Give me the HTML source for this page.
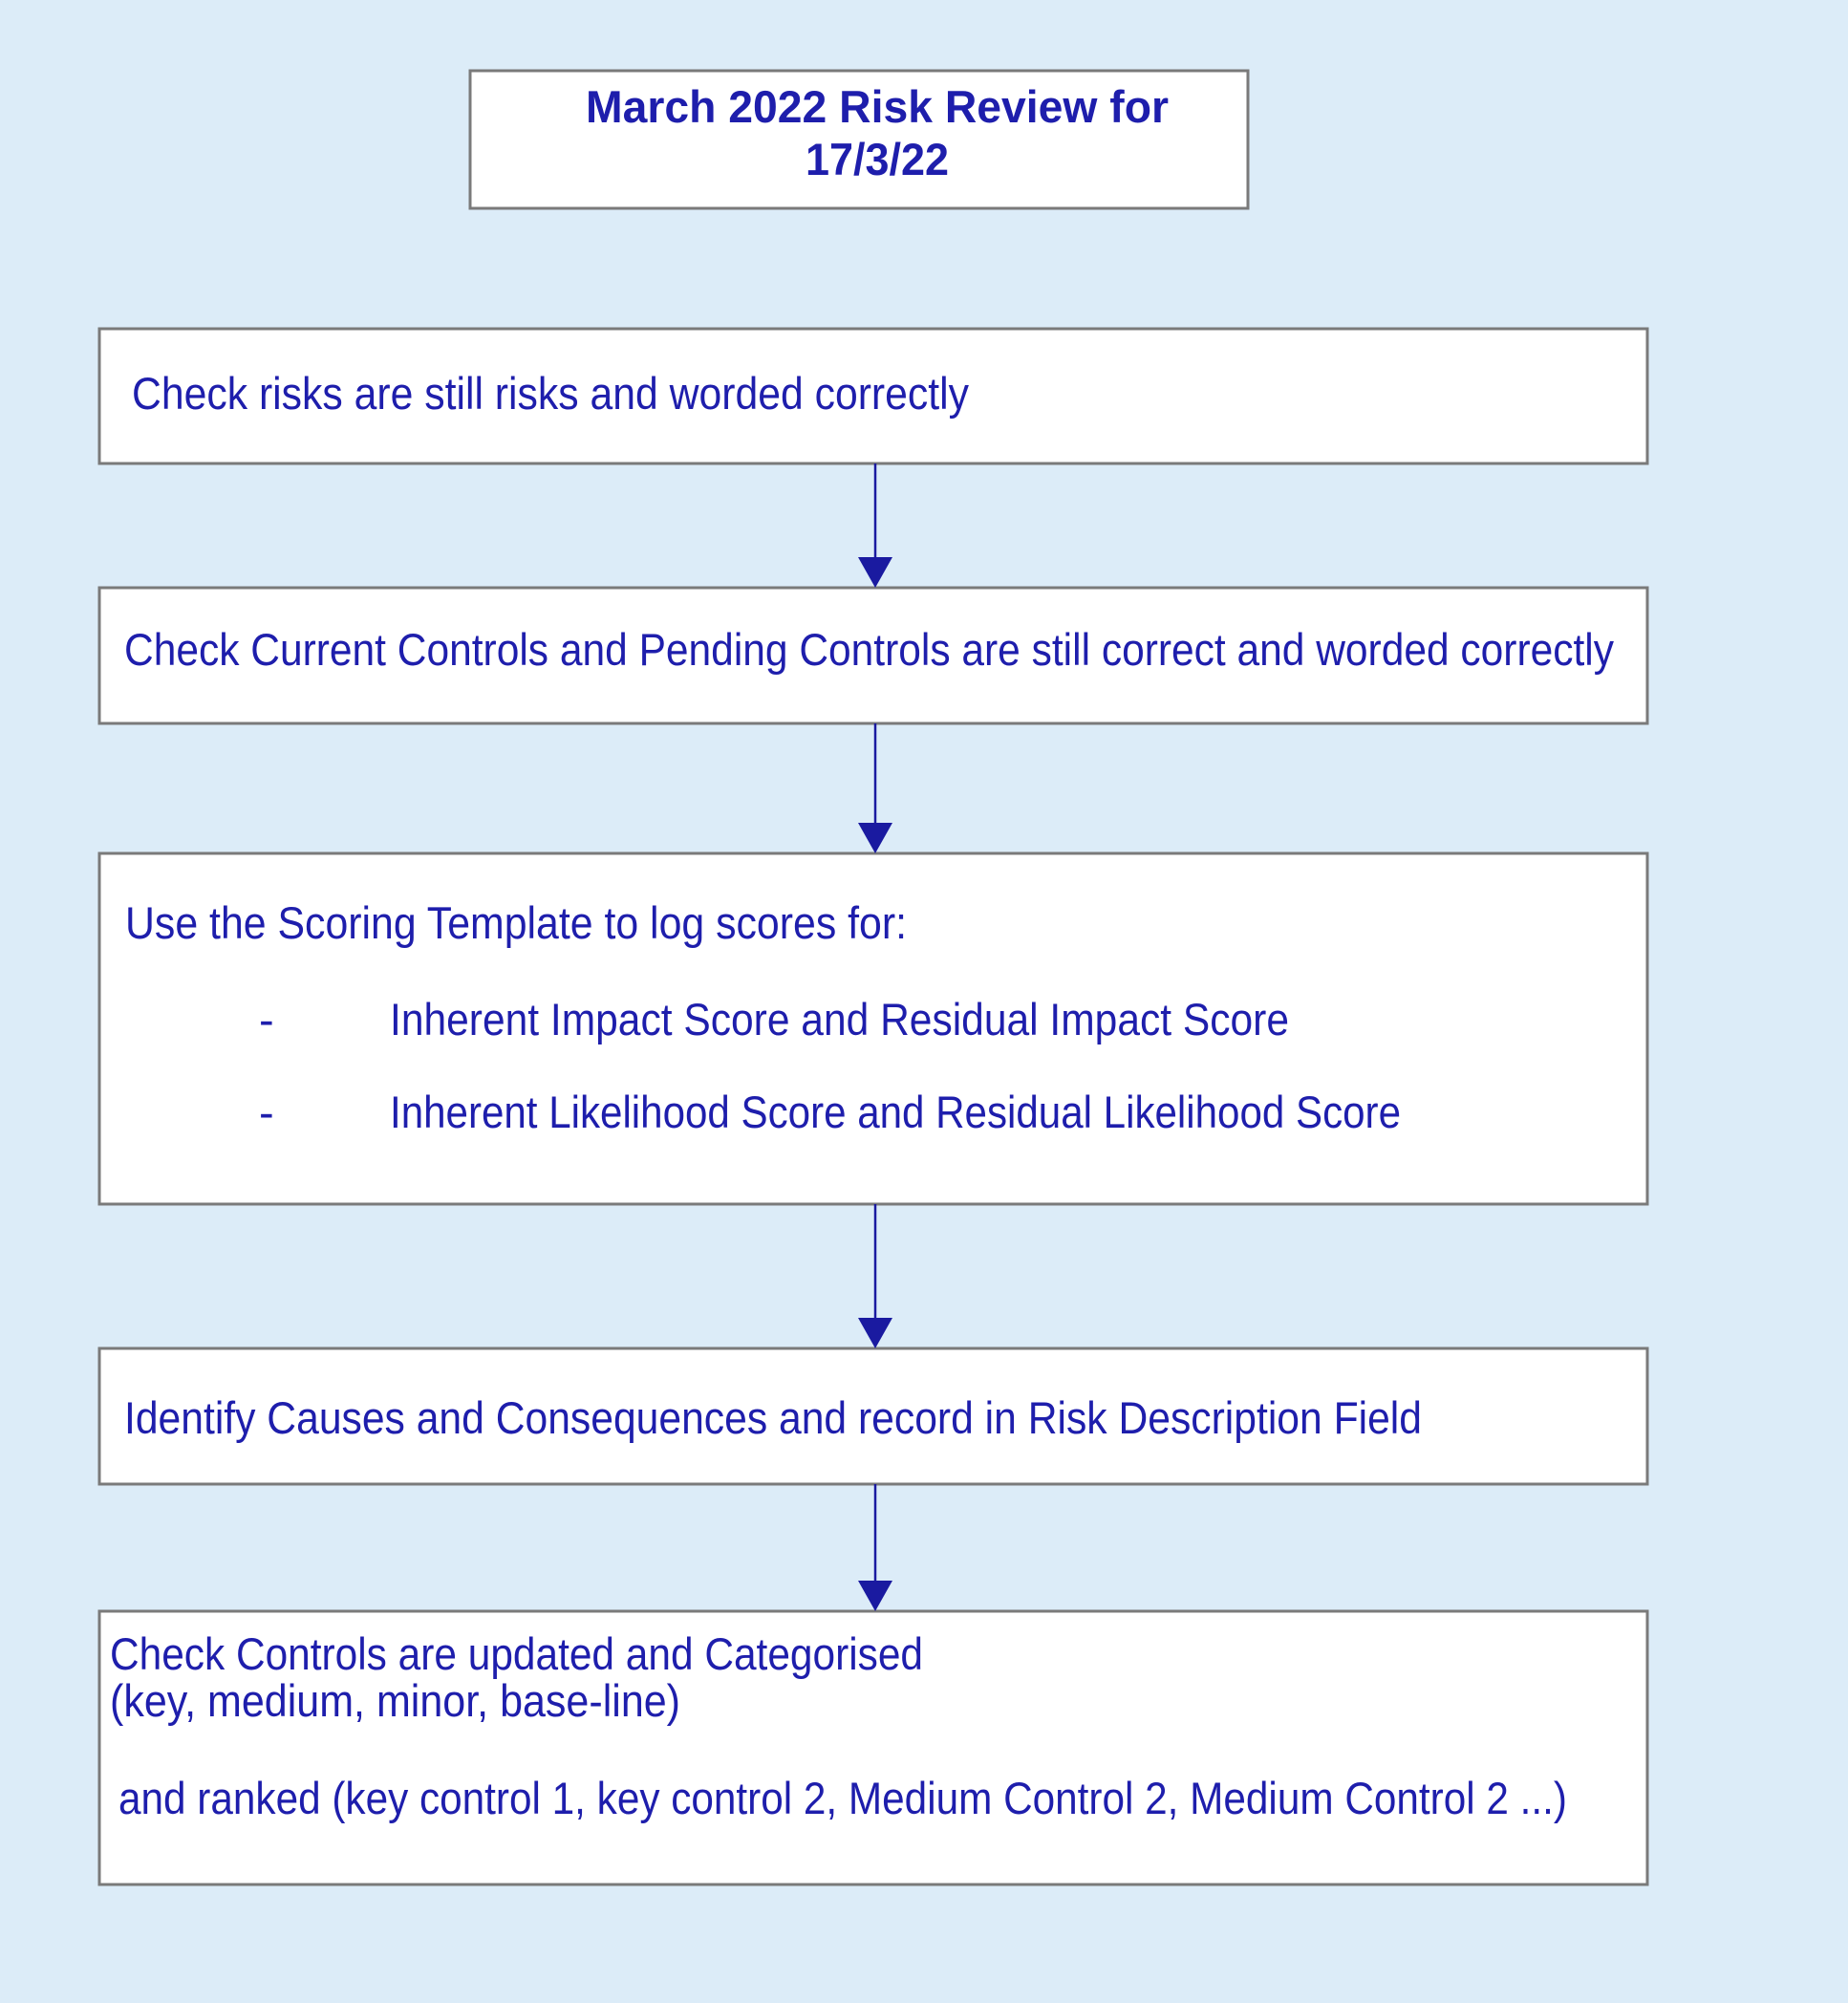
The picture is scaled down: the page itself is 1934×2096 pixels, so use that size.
<!DOCTYPE html>
<html><head><meta charset="utf-8"><style>
html,body{margin:0;padding:0;background:#dcecf8;}
svg{display:block}
text{font-family:"Liberation Sans",Arial,sans-serif;fill:#1e1eac;}
</style></head><body>
<svg width="1934" height="2096" viewBox="0 0 1934 2096" xmlns="http://www.w3.org/2000/svg">
<rect x="0" y="0" width="1934" height="2096" fill="#dcecf8"/>
<g fill="#fff" stroke="#7a7a7a" stroke-width="3">
<rect x="492" y="74" width="814" height="144"/>
<rect x="104" y="344" width="1620" height="141"/>
<rect x="104" y="615" width="1620" height="142"/>
<rect x="104" y="893" width="1620" height="367"/>
<rect x="104" y="1411" width="1620" height="142"/>
<rect x="104" y="1686" width="1620" height="286"/>
</g>
<g stroke="#1a1aa0" stroke-width="2.5" fill="#1a1aa0">
<line x1="916" y1="485" x2="916" y2="590"/><polygon points="898,583 934,583 916,615" stroke="none"/>
<line x1="916" y1="757" x2="916" y2="868"/><polygon points="898,861 934,861 916,893" stroke="none"/>
<line x1="916" y1="1260" x2="916" y2="1386"/><polygon points="898,1379 934,1379 916,1411" stroke="none"/>
<line x1="916" y1="1553" x2="916" y2="1661"/><polygon points="898,1654 934,1654 916,1686" stroke="none"/>
</g>
<text x="613" y="128" font-size="47" font-weight="bold" textLength="610" lengthAdjust="spacingAndGlyphs">March 2022 Risk Review for</text>
<text x="843" y="183" font-size="47" font-weight="bold" textLength="150" lengthAdjust="spacingAndGlyphs">17/3/22</text>
<text x="138" y="428" font-size="47" textLength="876" lengthAdjust="spacingAndGlyphs">Check risks are still risks and worded correctly</text>
<text x="130" y="696" font-size="47" textLength="1559" lengthAdjust="spacingAndGlyphs">Check Current Controls and Pending Controls are still correct and worded correctly</text>
<text x="131" y="982" font-size="47" textLength="818" lengthAdjust="spacingAndGlyphs">Use the Scoring Template to log scores for:</text>
<text x="271" y="1083" font-size="47">-</text>
<text x="408" y="1083" font-size="47" textLength="941" lengthAdjust="spacingAndGlyphs">Inherent Impact Score and Residual Impact Score</text>
<text x="271" y="1180" font-size="47">-</text>
<text x="408" y="1180" font-size="47" textLength="1058" lengthAdjust="spacingAndGlyphs">Inherent Likelihood Score and Residual Likelihood Score</text>
<text x="130" y="1500" font-size="47" textLength="1358" lengthAdjust="spacingAndGlyphs">Identify Causes and Consequences and record in Risk Description Field</text>
<text x="115" y="1747" font-size="47" textLength="851" lengthAdjust="spacingAndGlyphs">Check Controls are updated and Categorised</text>
<text x="115" y="1796" font-size="47" textLength="597" lengthAdjust="spacingAndGlyphs">(key, medium, minor, base-line)</text>
<text x="124" y="1898" font-size="47" textLength="1516" lengthAdjust="spacingAndGlyphs">and ranked (key control 1, key control 2, Medium Control 2, Medium Control 2 ...)</text>
</svg>
</body></html>
